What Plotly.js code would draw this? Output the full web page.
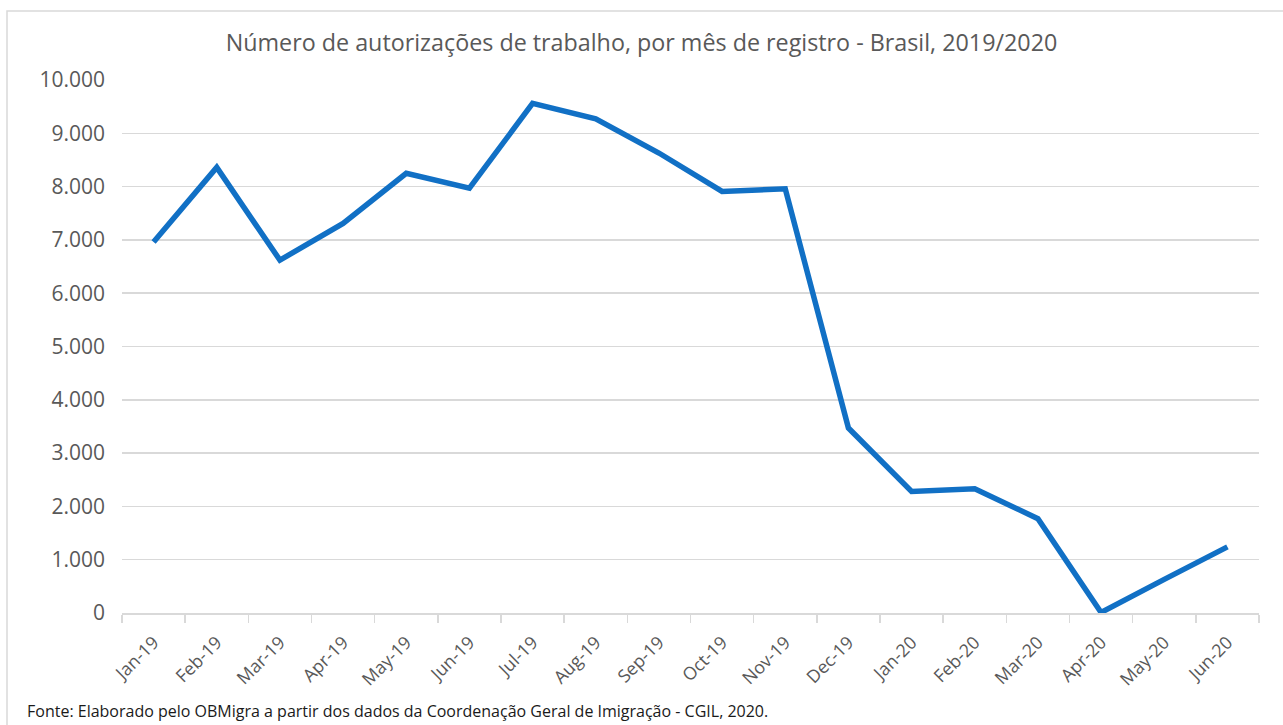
<!DOCTYPE html>
<html>
<head>
<meta charset="utf-8">
<script src="https://cdn.plot.ly/plotly-3.0.1.min.js"></script>
<style>
  html, body { margin: 0; padding: 0; background: #ffffff; }
  #chart { width: 1283px; height: 725px; }
</style>
</head>
<body>
<div id="chart"></div>
<script>
const months = ["Jan-19","Feb-19","Mar-19","Apr-19","May-19","Jun-19","Jul-19","Aug-19","Sep-19",
                "Oct-19","Nov-19","Dec-19","Jan-20","Feb-20","Mar-20","Apr-20","May-20","Jun-20"];
const autorizacoes = [6960, 8360, 6620, 7310, 8250, 7970, 9560, 9270, 8630,
                      7910, 7960, 3470, 2280, 2330, 1770, 10, 630, 1240];
const yTicks = [0,1000,2000,3000,4000,5000,6000,7000,8000,9000,10000];
const titleText = "Número de autorizações de trabalho, por mês de registro - Brasil, 2019/2020";
const sourceText = "Fonte: Elaborado pelo OBMigra a partir dos dados da Coordenação Geral de Imigração - CGIL, 2020.";

const FONT = "'Open Sans', 'Noto Sans', sans-serif";

const trace = {
  x: months,
  y: autorizacoes,
  type: "scatter",
  mode: "lines",
  line: { color: "#1170C5", width: 5.5, shape: "linear" },
  hoverinfo: "x+y"
};

// plot area px: left 122, right 1259, top 80, bottom 613
const L = 122, R = 1259, T = 80, B = 613;
const px = v => (v - L) / (R - L);
const py = v => (B - v) / (B - T);

const layout = {
  width: 1283,
  height: 725,
  margin: { l: L, r: 1283 - R, t: T, b: 725 - B, pad: 0 },
  paper_bgcolor: "#ffffff",
  plot_bgcolor: "#ffffff",
  separators: ",.",
  showlegend: false,
  font: { family: FONT, color: "#595959" },
  title: {
    text: titleText,
    font: { family: FONT, size: 23.3, color: "#595959" },
    x: 0.5, xref: "container", xanchor: "center",
    y: 1 - 43 / 725, yref: "container", yanchor: "middle"
  },
  xaxis: {
    type: "category",
    categoryorder: "array",
    categoryarray: months,
    range: [-0.5, months.length - 0.5],
    tickson: "boundaries",
    ticks: "outside",
    ticklen: 8,
    tickwidth: 1.5,
    tickcolor: "#d9d9d9",
    showline: true,
    linecolor: "#d9d9d9",
    linewidth: 2,
    showgrid: false,
    zeroline: false,
    tickangle: -45,
    ticklabelstandoff: 10,
    tickfont: { family: FONT, size: 17.8, color: "#595959" },
    fixedrange: true
  },
  yaxis: {
    range: [0, 10000],
    tickvals: yTicks,
    tickformat: ",d",
    showgrid: true,
    gridcolor: "#d9d9d9",
    gridwidth: 1.5,
    zeroline: false,
    showline: false,
    ticks: "",
    ticklabelstandoff: 16,
    tickfont: { family: FONT, size: 21, color: "#595959" },
    fixedrange: true
  },
  shapes: [
    {
      type: "rect", xref: "paper", yref: "paper", layer: "below",
      x0: px(7), x1: px(1295), y0: py(740), y1: py(11),
      line: { color: "#d9d9d9", width: 1.5 },
      fillcolor: "rgba(0,0,0,0)"
    }
  ],
  annotations: [
    {
      text: sourceText,
      xref: "paper", yref: "paper",
      x: px(25), y: py(724),
      xanchor: "left", yanchor: "bottom",
      showarrow: false,
      font: { family: FONT, size: 16, color: "#1a1a1a" }
    }
  ]
};

Plotly.newPlot("chart", [trace], layout, { displayModeBar: false, staticPlot: true });
</script>
</body>
</html>
